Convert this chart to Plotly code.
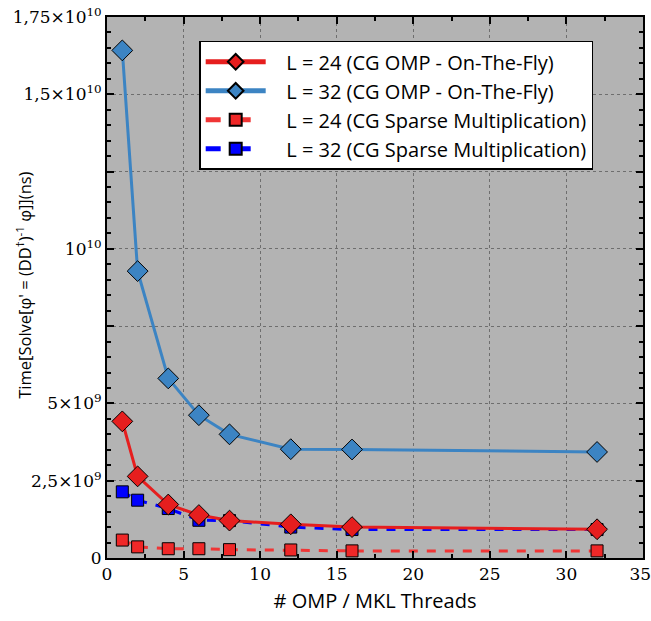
import plotly.graph_objects as go

threads = [1, 2, 4, 6, 8, 12, 16, 32]
l24_omp = [4.42e9, 2.64e9, 1.73e9, 1.39e9, 1.21e9, 1.09e9, 1.00e9, 0.93e9]
l32_omp = [16.42e9, 9.28e9, 5.81e9, 4.62e9, 4.00e9, 3.52e9, 3.51e9, 3.43e9]
l24_sparse = [0.58e9, 0.36e9, 0.30e9, 0.30e9, 0.27e9, 0.26e9, 0.23e9, 0.23e9]
l32_sparse = [2.14e9, 1.87e9, 1.60e9, 1.22e9, 1.21e9, 1.00e9, 0.92e9, 0.92e9]

names = ["L = 24 (CG OMP - On-The-Fly)", "L = 32 (CG OMP - On-The-Fly)",
         "L = 24 (CG Sparse Multiplication)", "L = 32 (CG Sparse Multiplication)"]

y_tickvals = [0, 2.5e9, 5e9, 7.5e9, 1e10, 1.25e10, 1.5e10, 1.75e10]
y_ticktext = ["0", "2,5×10<sup>9</sup>", "5×10<sup>9</sup>", "", "10<sup>10</sup>", "",
              "1,5×10<sup>10</sup>", "1,75×10<sup>10</sup>"]
x_tickvals = [0, 5, 10, 15, 20, 25, 30, 35]
x_ticktext = ["0", "5", "10", "15", "20", "25", "30", "35\u00a0"]
y_title = "Time[Solve[φ' = (DD<sup>†</sup>)<sup>-1</sup> φ]](ns)"
x_title = "# OMP / MKL Threads"

pad = "\u00a0\u00a0\u00a0"

fig = go.Figure()
mk_line = dict(color="black", width=1)
fig.add_trace(go.Scatter(x=threads, y=l24_sparse, name=pad + names[2], legendrank=3, mode="lines+markers",
                         line=dict(color="#f03535", width=3, dash="dash"),
                         marker=dict(symbol="square", size=12, color="#f02828", line=mk_line)))
fig.add_trace(go.Scatter(x=threads, y=l32_sparse, name=pad + names[3], legendrank=4, mode="lines+markers",
                         line=dict(color="#0000ff", width=3, dash="dash"),
                         marker=dict(symbol="square", size=12, color="#0000ff", line=mk_line)))
fig.add_trace(go.Scatter(x=threads, y=l32_omp, name=pad + names[1], legendrank=2, mode="lines+markers",
                         line=dict(color="#3c84c3", width=3),
                         marker=dict(symbol="diamond", size=16, color="#3c84c3", line=mk_line)))
fig.add_trace(go.Scatter(x=threads, y=l24_omp, name=pad + names[0], legendrank=1, mode="lines+markers",
                         line=dict(color="#e61e1e", width=3),
                         marker=dict(symbol="diamond", size=16, color="#e61e1e", line=mk_line)))

axis_common = dict(showline=True, linecolor="black", linewidth=2, mirror="allticks",
                   ticks="inside", tickcolor="black", ticklen=7, tickwidth=1.5,
                   showgrid=True, gridcolor="#6e6e6e", griddash="dot", gridwidth=1,
                   zeroline=False, automargin=False, ticklabeloverflow="allow",
                   tickfont=dict(family="DejaVu Serif", size=17, color="black"))

fig.update_xaxes(range=[0, 35], tickvals=x_tickvals, ticktext=x_ticktext,
                 minor=dict(dtick=2.5, tick0=0, ticks="inside", ticklen=4, tickcolor="black", showgrid=False),
                 title=dict(text=x_title, font=dict(family="Open Sans", size=20, color="black"),
                            standoff=11),
                 **axis_common)
fig.update_yaxes(range=[0, 1.75e10], tickvals=y_tickvals, ticktext=y_ticktext,
                 minor=dict(dtick=5e8, tick0=0, ticks="inside", ticklen=4, tickcolor="black", showgrid=False),
                 **axis_common)

fig.add_annotation(text=y_title, textangle=-90, xref="paper", yref="paper",
                   x=-0.155, y=0.505, xanchor="center", yanchor="middle", showarrow=False,
                   font=dict(family="Open Sans", size=16.5, color="black"))

fig.update_layout(
    width=651, height=621,
    margin=dict(l=107, r=8, t=17, b=63),
    plot_bgcolor="#b3b3b3", paper_bgcolor="white",
    showlegend=True,
    legend=dict(x=0.172, y=0.956, xanchor="left", yanchor="top",
                bgcolor="white", bordercolor="black", borderwidth=1.5,
                font=dict(family="Open Sans", size=20, color="black"),
                tracegroupgap=0, itemwidth=60, itemsizing="constant"),
)

fig.write_html("out.html")
